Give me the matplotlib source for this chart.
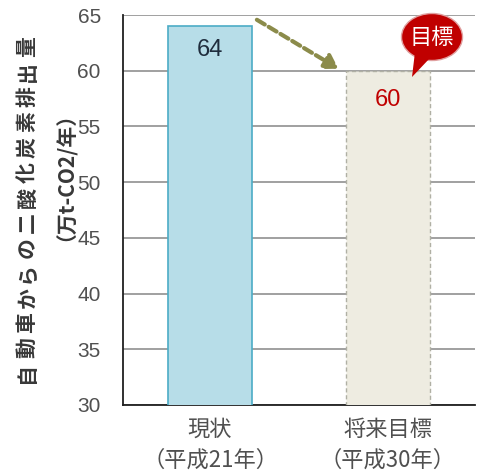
import matplotlib.pyplot as plt
from matplotlib.patches import Ellipse, Polygon

plt.rcParams['font.family'] = ['Noto Sans CJK JP', 'DejaVu Sans']

categories = ['現状\n（平成21年）', '将来目標\n（平成30年）']
values = [64, 60]
yticks = [30, 35, 40, 45, 50, 55, 60, 65]
ylabel_main = '自動車からの二酸化炭素排出量'
ylabel_unit = '（万t-CO2/年）'

W, H = 483, 475
fig = plt.figure(figsize=(W / 100, H / 100), dpi=100)
ax = fig.add_axes([123 / W, 70 / H, 352 / W, 390 / H])

x = [0, 1]
bw = 0.472
ax.bar(x[0], values[0], width=bw, color='#b7dde8',
       edgecolor='#4bacc6', linewidth=1.2, zorder=3)
ax.bar(x[1], values[1], width=bw, color='#eeece1',
       edgecolor='#b0b0a4', linewidth=1.0, linestyle=(0, (3, 2)), zorder=3)

ax.set_xlim(-0.489, 1.489)
ax.set_ylim(30, 65)
ax.set_yticks(yticks)
ax.set_xticks(x)
ax.set_xticklabels(categories, fontsize=16, color='#404040', linespacing=1.45)
ax.tick_params(axis='both', length=0, colors='#505050')
ax.tick_params(axis='y', pad=16, labelsize=15)
ax.tick_params(axis='x', pad=9)
for lbl in ax.get_yticklabels():
    lbl.set_fontfamily('Liberation Sans')
ax.grid(axis='y', color='#a0a0a0', linewidth=1.4, zorder=0)
for s in ['top', 'right']:
    ax.spines[s].set_visible(False)
for s in ['left', 'bottom']:
    ax.spines[s].set_color('#202020')
    ax.spines[s].set_linewidth(1.3)

# value labels inside bars
ax.text(x[0], values[0] - 2.1, str(values[0]), ha='center', va='center',
        fontsize=17, color='#1f2d3d', family='Liberation Sans', zorder=4)
ax.text(x[1], values[1] - 2.6, str(values[1]), ha='center', va='center',
        fontsize=17, color='#c00000', family='Liberation Sans', zorder=4)

# dashed arrow from current to target
ax.annotate('', xy=(0.735, values[1] + 0.05), xytext=(0.25, values[0] + 0.7),
            arrowprops=dict(arrowstyle='-|>,head_length=0.8,head_width=0.5',
                            color='#8b8b4a', lw=3, linestyle=(0, (2.2, 1.1))),
            zorder=5)

# "目標" callout bubble (pixel coordinates, y from bottom)
bubble = Ellipse((432, H - 37), 61, 47, transform=None, facecolor='#c00000',
                 edgecolor='#e0a0a0', linewidth=1.0, zorder=6)
tail = Polygon([[415, H - 52], [430, H - 58], [412, H - 77]], closed=True,
               transform=None, facecolor='#c00000', edgecolor='none', zorder=6)
fig.patches.extend([bubble, tail])
fig.text(432 / W, (H - 37) / H, '目標', ha='center', va='center', fontsize=16,
         color='white', zorder=7)

# y axis title, main line laid out one character at a time
y0, pitch = 373, 25.1
for i, ch in enumerate(ylabel_main):
    fig.text(27 / W, (H - (y0 - i * pitch)) / H, ch, rotation=90,
             ha='center', va='center', fontsize=15, fontweight='bold',
             color='#383838')
fig.text(55 / W, (H - 166) / H, ylabel_unit, rotation=90, ha='center',
         va='center', fontsize=15, fontweight='bold', color='#383838')

fig.savefig('out.png', dpi=100)
